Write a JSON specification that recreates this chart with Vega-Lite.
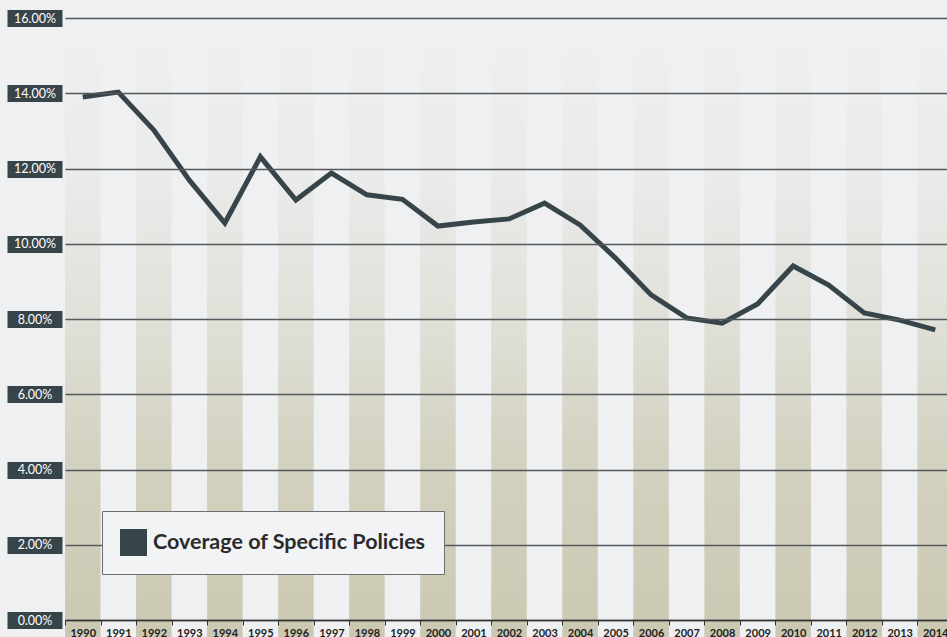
{
  "$schema": "https://vega.github.io/schema/vega-lite/v6.json",
  "width": 885,
  "height": 602,
  "autosize": {"type": "none"},
  "padding": {"left": 62, "top": 18, "right": 0, "bottom": 17},
  "background": "#eef0f2",
  "config": {"view": {"stroke": null}, "font": "Lato"},
  "data": {
    "values": [
      {"year": "1990", "pct": 13.90},
      {"year": "1991", "pct": 14.03},
      {"year": "1992", "pct": 13.02},
      {"year": "1993", "pct": 11.69},
      {"year": "1994", "pct": 10.55},
      {"year": "1995", "pct": 12.31},
      {"year": "1996", "pct": 11.16},
      {"year": "1997", "pct": 11.88},
      {"year": "1998", "pct": 11.30},
      {"year": "1999", "pct": 11.18},
      {"year": "2000", "pct": 10.47},
      {"year": "2001", "pct": 10.58},
      {"year": "2002", "pct": 10.66},
      {"year": "2003", "pct": 11.08},
      {"year": "2004", "pct": 10.50},
      {"year": "2005", "pct": 9.62},
      {"year": "2006", "pct": 8.64},
      {"year": "2007", "pct": 8.03},
      {"year": "2008", "pct": 7.89},
      {"year": "2009", "pct": 8.40},
      {"year": "2010", "pct": 9.41},
      {"year": "2011", "pct": 8.90},
      {"year": "2012", "pct": 8.16},
      {"year": "2013", "pct": 7.97},
      {"year": "2014", "pct": 7.71}
    ]
  },
  "encoding": {
    "x": {
      "field": "year",
      "type": "ordinal",
      "scale": {"range": [3, 891], "paddingInner": 0, "paddingOuter": 0},
      "axis": {
        "title": null,
        "labelAngle": 0,
        "labelFontSize": 11,
        "labelFontWeight": "bold",
        "labelColor": "#222222",
        "labelPadding": 2,
        "tickBand": "extent",
        "tickSize": 5,
        "tickColor": "#333333",
        "tickWidth": 1,
        "domainColor": "#333333",
        "domainWidth": 1.5,
        "zindex": 1
      }
    }
  },
  "layer": [
    {
      "transform": [{"filter": "toNumber(datum.year) % 2 == 0"}],
      "mark": {
        "type": "bar",
        "fill": {
          "gradient": "linear",
          "x1": 0, "y1": 0, "x2": 0, "y2": 1,
          "stops": [
            {"offset": 0, "color": "rgba(205,202,180,0.0)"},
            {"offset": 0.25, "color": "rgba(205,202,180,0.12)"},
            {"offset": 0.45, "color": "rgba(205,202,180,0.35)"},
            {"offset": 0.7, "color": "rgba(205,202,180,0.8)"},
            {"offset": 1, "color": "rgba(203,200,178,1)"}
          ]
        }
      },
      "encoding": {
        "y": {
          "datum": 16,
          "type": "quantitative",
          "scale": {"domain": [0, 16]},
          "axis": {
            "title": null,
            "values": [0, 2, 4, 6, 8, 10, 12, 14, 16],
            "labelExpr": "format(datum.value, '.2f') + '%'",
            "labelColor": "#ffffff",
            "labelFontSize": 12.5,
            "labelAlign": "center",
            "labelBaseline": "middle",
            "labelPadding": -27.5,
            "labelFlush": false,
            "labelOverlap": false,
            "tickSize": 55,
            "tickWidth": 17,
            "tickColor": "#37454b",
            "tickCap": "butt",
            "domain": false,
            "grid": true,
            "gridColor": "#55585b",
            "gridWidth": 1.3,
            "zindex": 1
          }
        },
        "y2": {"datum": -0.45}
      }
    },
    {
      "mark": {"type": "line", "strokeWidth": 5, "strokeJoin": "miter", "strokeCap": "butt"},
      "encoding": {
        "y": {
          "field": "pct",
          "type": "quantitative",
          "scale": {"domain": [0, 16]},
          "axis": {
            "title": null,
            "values": [0, 2, 4, 6, 8, 10, 12, 14, 16],
            "labelExpr": "format(datum.value, '.2f') + '%'",
            "labelColor": "#ffffff",
            "labelFontSize": 12.5,
            "labelAlign": "center",
            "labelBaseline": "middle",
            "labelPadding": -27.5,
            "labelFlush": false,
            "labelOverlap": false,
            "tickSize": 55,
            "tickWidth": 17,
            "tickColor": "#37454b",
            "tickCap": "butt",
            "domain": false,
            "grid": true,
            "gridColor": "#55585b",
            "gridWidth": 1.3,
            "zindex": 1
          }
        },
        "color": {
          "datum": "Coverage of Specific Policies",
          "type": "nominal",
          "scale": {"range": ["#37454b"]},
          "legend": {
            "title": null,
            "orient": "none",
            "legendX": 40,
            "legendY": 493,
            "symbolType": "square",
            "symbolSize": 729,
            "labelFontSize": 21.5,
            "labelFontWeight": "bold",
            "labelColor": "#2b2b2b",
            "labelLimit": 600,
            "labelOffset": 6,
            "fillColor": "#f2f3f4",
            "strokeColor": "#6b6f72",
            "padding": 18,
            "zindex": 3,
            "encode": {
              "symbols": {
                "update": {
                  "fill": {"value": "#37454b"},
                  "stroke": {"value": "#37454b"},
                  "strokeWidth": {"value": 0},
                  "opacity": {"value": 1}
                }
              }
            }
          }
        }
      }
    }
  ]
}
